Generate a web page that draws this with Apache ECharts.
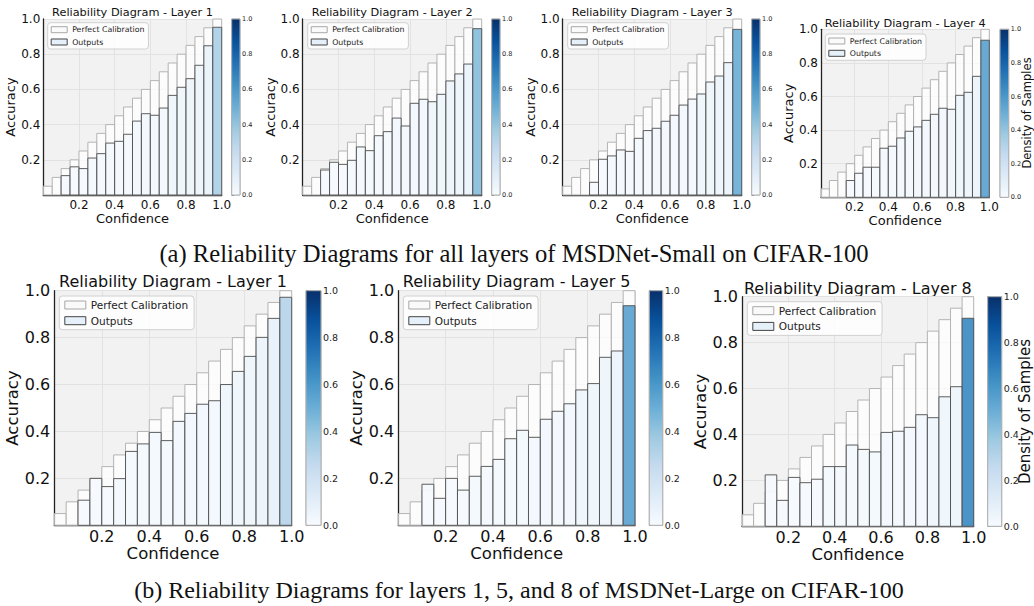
<!DOCTYPE html>
<html><head><meta charset="utf-8">
<script src="https://cdn.jsdelivr.net/npm/echarts@6/dist/echarts.min.js"></script>
<style>html,body{margin:0;padding:0;background:#fff}#c{width:1034px;height:606px}</style>
</head><body><div id="c"></div>
<script>
// ---------- data ----------
const binLo = [0,0.05,0.10,0.15,0.20,0.25,0.30,0.35,0.40,0.45,0.50,0.55,0.60,0.65,0.70,0.75,0.80,0.85,0.90,0.95];
const BIN_W = 0.05;
const perfectAcc = [0.05,0.10,0.15,0.20,0.25,0.30,0.35,0.40,0.45,0.50,0.55,0.60,0.65,0.70,0.75,0.80,0.85,0.90,0.95,1.00];
const axisTicks = [0.2,0.4,0.6,0.8,1.0];
const cbarTicks = [0.0,0.2,0.4,0.6,0.8,1.0];

const panelTitles = ['Reliability Diagram - Layer 1','Reliability Diagram - Layer 2','Reliability Diagram - Layer 3','Reliability Diagram - Layer 4',
  'Reliability Diagram - Layer 1','Reliability Diagram - Layer 5','Reliability Diagram - Layer 8'];

const acc_S1 = [0,0,0.110,0.160,0.150,0.210,0.235,0.295,0.305,0.345,0.420,0.462,0.453,0.494,0.566,0.612,0.661,0.737,0.848,0.953];
const acc_S2 = [0,0,0.142,0.186,0.174,0.197,0.273,0.252,0.337,0.360,0.437,0.392,0.521,0.544,0.530,0.572,0.648,0.688,0.744,0.945];
const acc_S3 = [0,0,0,0.072,0.203,0.222,0.256,0.248,0.322,0.366,0.379,0.419,0.453,0.511,0.545,0.574,0.642,0.676,0.752,0.941];
const acc_S4 = [0,0,0,0.100,0.143,0.179,0.179,0.292,0.304,0.353,0.393,0.419,0.458,0.494,0.530,0.524,0.607,0.625,0.720,0.935];
const acc_L1 = [0,0,0.107,0.200,0.165,0.199,0.315,0.347,0.396,0.361,0.443,0.477,0.516,0.531,0.600,0.656,0.720,0.801,0.882,0.972];
const acc_L5 = [0,0,0.175,0.115,0.200,0.150,0.209,0.251,0.281,0.369,0.405,0.375,0.452,0.486,0.518,0.577,0.604,0.716,0.743,0.936];
const acc_L8 = [0,0,0.224,0.113,0.213,0.190,0.205,0.260,0.260,0.354,0.335,0.324,0.409,0.414,0.431,0.486,0.473,0.564,0.608,0.906];

const dens_S1 = [0,0,0.01,0.01,0.01,0.02,0.02,0.02,0.02,0.02,0.03,0.03,0.03,0.03,0.04,0.04,0.05,0.05,0.07,0.33];
const dens_S2 = [0,0,0.01,0.01,0.01,0.02,0.02,0.02,0.02,0.02,0.03,0.03,0.03,0.03,0.04,0.04,0.05,0.05,0.06,0.43];
const dens_S3 = [0,0,0,0.01,0.01,0.02,0.02,0.02,0.02,0.02,0.03,0.03,0.03,0.03,0.03,0.04,0.04,0.05,0.06,0.50];
const dens_S4 = [0,0,0,0.01,0.01,0.01,0.02,0.02,0.02,0.02,0.02,0.03,0.03,0.03,0.03,0.04,0.04,0.05,0.06,0.55];
const dens_L1 = [0,0,0.01,0.01,0.01,0.02,0.02,0.02,0.02,0.02,0.03,0.03,0.03,0.03,0.04,0.04,0.05,0.06,0.08,0.30];
const dens_L5 = [0,0,0.01,0.01,0.01,0.01,0.02,0.02,0.02,0.02,0.02,0.03,0.03,0.03,0.03,0.04,0.04,0.05,0.06,0.55];
const dens_L8 = [0,0,0.01,0.01,0.01,0.01,0.01,0.02,0.02,0.02,0.02,0.02,0.03,0.03,0.03,0.03,0.04,0.04,0.05,0.65];

const panelAcc = [acc_S1,acc_S2,acc_S3,acc_S4,acc_L1,acc_L5,acc_L8];
const panelDens = [dens_S1,dens_S2,dens_S3,dens_S4,dens_L1,dens_L5,dens_L8];

const captionA = '(a) Reliability Diagrams for all layers of MSDNet-Small on CIFAR-100';
const captionB = '(b) Reliability Diagrams for layers 1, 5, and 8 of MSDNet-Large on CIFAR-100';
const densityLabel = 'Density of Samples';

// ---------- layout / style ----------
const BLUES = ['#f7fbff','#deebf7','#c6dbef','#9ecae1','#6baed6','#4292c6','#2171b5','#08519c','#08306b'];
const FONT = 'DejaVu Sans';
const LAYOUT = [
 {g:[43.3,19,178.4,176], cb:[231.7,19,8.3,176], lg:[47.7,22.7], big:false, titleY:12, yGap:22, xGap:14},
 {g:[302.7,19,179,176], cb:[491.7,19,8.3,176], lg:[307.7,22.7], big:false, titleY:12, yGap:22, xGap:14},
 {g:[562.7,19,179,176], cb:[751.7,19,8.3,176], lg:[567.7,22.7], big:false, titleY:12, yGap:22, xGap:14},
 {g:[821,29.3,168.3,168], cb:[1000,29.3,8.7,168], lg:[825.3,34], big:false, titleY:23.3, yGap:18.5, xGap:13, dens:[1026.5,113], densFs:11.5},
 {g:[54.3,290.7,237.4,234.6], cb:[306,290.7,15,234.6], lg:[59.3,296], big:true, titleY:281.7, yGap:30, xGap:19},
 {g:[398.3,290.7,236.7,234.6], cb:[649.3,290.7,13.4,234.6], lg:[403.3,296], big:true, titleY:281.7, yGap:32, xGap:19},
 {g:[742,296.7,231.7,229.6], cb:[987.7,296.7,14,229.6], lg:[747.3,301.7], big:true, titleY:288.3, yGap:31, xGap:18.5, dens:[1024.5,411.5], densFs:15},
];

function fmtTick(list){ return v => list.some(t => Math.abs(t - v) < 1e-6) ? v.toFixed(1) : ''; }

function barRender(kind){
  return function(params, api){
    const lo = api.value(0), hi = api.value(1), v = api.value(2);
    if (!(v > 0)) return null;
    const p0 = api.coord([lo, v]), p1 = api.coord([hi, 0]);
    const style = kind === 'perfect'
      ? {fill:'rgba(255,255,255,0.72)', stroke:'#b4b4b4', lineWidth:1}
      : {fill:api.visual('color'), stroke:'#505050', lineWidth:1, opacity:0.92};
    return {type:'rect', shape:{x:p0[0], y:p0[1], width:p1[0]-p0[0], height:p1[1]-p0[1]}, style};
  };
}
function cbarRender(params, api){
  const p0 = api.coord([0,1]), p1 = api.coord([1,0]);
  return {type:'rect', shape:{x:p0[0], y:p0[1], width:p1[0]-p0[0], height:p1[1]-p0[1]},
    style:{fill:new echarts.graphic.LinearGradient(0,1,0,0, BLUES.map((c,i)=>({offset:i/(BLUES.length-1), color:c}))), stroke:'#b0b0b0', lineWidth:1}};
}

const grid=[], xAxis=[], yAxis=[], series=[], legend=[], graphic=[], outIdx=[];
LAYOUT.forEach((L, p) => {
  const big = L.big;
  const tickFs = big ? 16 : 12, nameFs = big ? 16.5 : 13, titleFs = big ? 16 : 11.3, legFs = big ? 10.5 : 7.8, cbFs = big ? 9.5 : 6.5;
  const gi = grid.length;
  grid.push({left:L.g[0], top:L.g[1], width:L.g[2], height:L.g[3], show:true, backgroundColor:'#f2f2f2', borderWidth:0, containLabel:false});
  xAxis.push({gridIndex:gi, type:'value', min:0, max:1, interval:0.2,
    name:'Confidence', nameLocation:'middle', nameGap:L.xGap, nameTextStyle:{fontFamily:FONT, fontSize:nameFs, color:'#111'},
    axisLine:{show:true, onZero:false, lineStyle:{color:'#222', width:1.3}}, axisTick:{show:false},
    splitLine:{show:true, lineStyle:{color:'#e2e2e2', width:1}},
    axisLabel:{formatter:fmtTick(axisTicks), fontFamily:FONT, fontSize:tickFs, color:'#111', margin:big?3:4}});
  yAxis.push({gridIndex:gi, type:'value', min:0, max:1, interval:0.2,
    name:'Accuracy', nameLocation:'middle', nameGap:L.yGap, nameTextStyle:{fontFamily:FONT, fontSize:nameFs, color:'#111'},
    axisLine:{show:true, onZero:false, lineStyle:{color:'#222', width:1.3}}, axisTick:{show:false},
    splitLine:{show:true, lineStyle:{color:'#e2e2e2', width:1}},
    axisLabel:{formatter:fmtTick(axisTicks), fontFamily:FONT, fontSize:tickFs, color:'#111', margin:big?4:3}});
  const ax = xAxis.length-1;
  series.push({type:'custom', name:'Perfect Calibration', coordinateSystem:'cartesian2d', xAxisIndex:ax, yAxisIndex:ax,
    renderItem:barRender('perfect'), dimensions:['lo','hi','acc'], encode:{x:[0,1], y:2},
    data: binLo.map((lo,i)=>[lo, lo+BIN_W, perfectAcc[i]]), z:2, silent:true});
  outIdx.push(series.length);
  series.push({type:'custom', name:'Outputs', coordinateSystem:'cartesian2d', xAxisIndex:ax, yAxisIndex:ax,
    renderItem:barRender('out'), dimensions:['lo','hi','acc','dens'], encode:{x:[0,1], y:2},
    data: binLo.map((lo,i)=>[lo, lo+BIN_W, panelAcc[p][i], panelDens[p][i]]), z:3, silent:true});
  // colorbar
  const ci = grid.length;
  grid.push({left:L.cb[0], top:L.cb[1], width:L.cb[2], height:L.cb[3], show:true, backgroundColor:'transparent', borderColor:'#b0b0b0', borderWidth:1});
  xAxis.push({gridIndex:ci, type:'value', min:0, max:1, show:false});
  yAxis.push({gridIndex:ci, type:'value', min:0, max:1, interval:0.2, position:'right',
    axisLine:{show:false}, axisTick:{show:true, length:2, lineStyle:{color:'#777'}}, splitLine:{show:false},
    axisLabel:{formatter:fmtTick(cbarTicks), fontFamily:FONT, fontSize:cbFs, color:'#222', margin:2}});
  const cx = xAxis.length-1;
  series.push({type:'custom', name:'cbar', coordinateSystem:'cartesian2d', xAxisIndex:cx, yAxisIndex:cx,
    renderItem:cbarRender, encode:{x:0, y:1}, data:[[0,1]], silent:true});
  // legend
  legend.push({left:L.lg[0], top:L.lg[1], orient:'vertical', selectedMode:false,
    padding: big ? [3,6,3,5] : [2.5,4,2.5,3], itemGap: big ? 3.7 : 3.3,
    itemWidth: big ? 21 : 16, itemHeight: big ? 8 : 6, icon:'rect',
    backgroundColor:'rgba(255,255,255,0.85)', borderColor:'#d0d0d0', borderWidth:1, borderRadius:3,
    textStyle:{fontFamily:FONT, fontSize:legFs, color:'#222', lineHeight: big ? 12 : 9},
    data:[{name:'Perfect Calibration', itemStyle:{color:'#fafafa', borderColor:'#a8a8a8', borderWidth:1}},
          {name:'Outputs', itemStyle:{color:'#e6f0fa', borderColor:'#444', borderWidth:1}}]});
  // title
  graphic.push({type:'text', x:L.g[0]+L.g[2]/2, y:L.titleY, silent:true,
    style:{text:panelTitles[p], fontFamily:FONT, fontSize:titleFs, fill:'#111', textAlign:'center', textVerticalAlign:'middle'}});
  if (L.dens) {
    graphic.push({type:'text', x:L.dens[0], y:L.dens[1], rotation:Math.PI/2, silent:true,
      style:{text:densityLabel, fontFamily:FONT, fontSize:L.densFs, fill:'#111', textAlign:'center', textVerticalAlign:'middle'}});
  }
});
graphic.push({type:'text', x:514, y:253, silent:true, style:{text:captionA, fontFamily:'Liberation Serif', fontSize:24.6, fill:'#111', textAlign:'center', textVerticalAlign:'middle'}});
graphic.push({type:'text', x:519, y:590, silent:true, style:{text:captionB, fontFamily:'Liberation Serif', fontSize:24, fill:'#111', textAlign:'center', textVerticalAlign:'middle'}});

const chart = echarts.init(document.getElementById('c'), null, {renderer:'svg', width:1034, height:606});
chart.setOption({
  animation:false, backgroundColor:'#ffffff',
  grid, xAxis, yAxis, series, legend, graphic,
  visualMap:[{type:'continuous', show:false, min:0, max:1, dimension:3, seriesIndex:outIdx, inRange:{color:BLUES}}]
});
</script></body></html>
